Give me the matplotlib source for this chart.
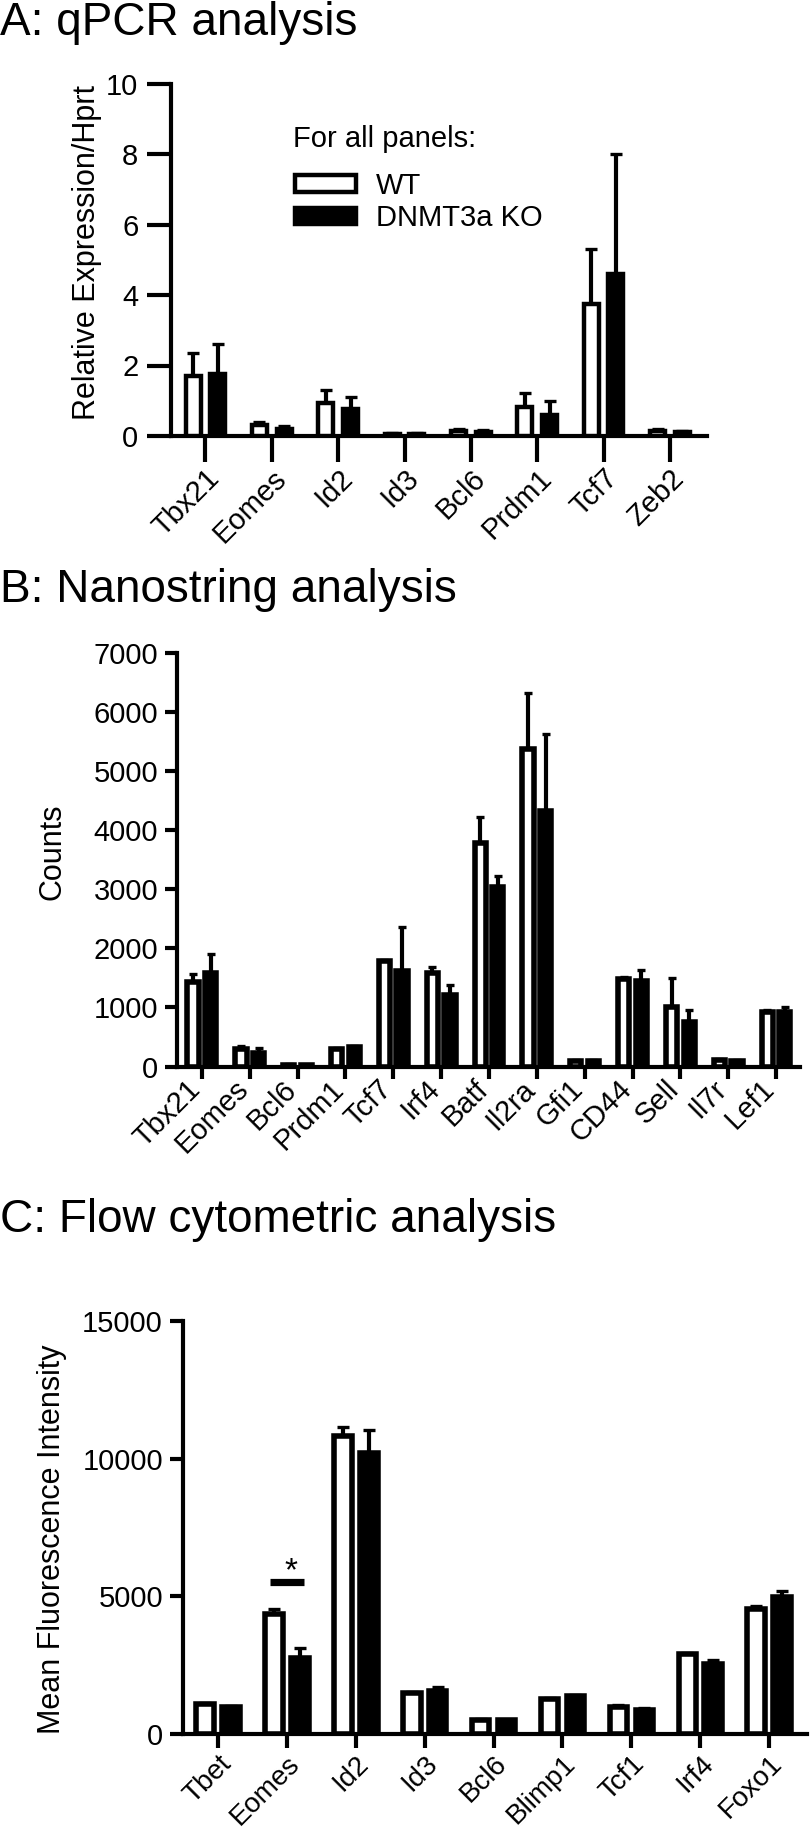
import numpy as np
import matplotlib
matplotlib.use("Agg")
import matplotlib.pyplot as plt

plt.rcParams['font.family'] = ['Liberation Sans', 'DejaVu Sans']

# ---------------- data ----------------
genes_a = ['Tbx21', 'Eomes', 'Id2', 'Id3', 'Bcl6', 'Prdm1', 'Tcf7', 'Zeb2']
wt_a = [1.70, 0.30, 0.93, 0.06, 0.15, 0.82, 3.74, 0.15]
wt_a_err = [0.65, 0.10, 0.37, 0.02, 0.05, 0.40, 1.56, 0.06]
ko_a = [1.76, 0.21, 0.78, 0.07, 0.11, 0.60, 4.60, 0.10]
ko_a_err = [0.85, 0.07, 0.32, 0.02, 0.05, 0.40, 3.40, 0.05]

genes_b = ['Tbx21', 'Eomes', 'Bcl6', 'Prdm1', 'Tcf7', 'Irf4', 'Batf', 'Il2ra',
           'Gfi1', 'CD44', 'Sell', 'Il7r', 'Lef1']
wt_b = [1430, 290, 30, 290, 1780, 1590, 3780, 5370, 100, 1480, 1000, 110, 920]
wt_b_err = [130, 50, 5, 20, 30, 100, 450, 950, 10, 40, 500, 15, 40]
ko_b = [1585, 235, 25, 330, 1610, 1210, 3040, 4320, 95, 1440, 760, 95, 930]
ko_b_err = [320, 80, 5, 10, 760, 170, 180, 1310, 10, 200, 190, 10, 70]

genes_c = ['Tbet', 'Eomes', 'Id2', 'Id3', 'Bcl6', 'Blimp1', 'Tcf1', 'Irf4', 'Foxo1']
wt_c = [1090, 4360, 10810, 1480, 520, 1270, 990, 2900, 4530]
wt_c_err = [30, 180, 330, 30, 30, 30, 70, 30, 120]
ko_c = [970, 2750, 10220, 1570, 500, 1390, 870, 2530, 4990]
ko_c_err = [30, 360, 830, 150, 20, 30, 85, 160, 200]

sig_gene_c = 'Eomes'
sig_label_c = '*'

titles = ['A: qPCR analysis', 'B: Nanostring analysis', 'C: Flow cytometric analysis']
ylabels = ['Relative Expression/Hprt', 'Counts', 'Mean Fluorescence Intensity']
legend_labels = ['WT', 'DNMT3a KO']
legend_title = 'For all panels:'

# ---------------- figure ----------------
W, H = 810, 1834
fig = plt.figure(figsize=(W / 100, H / 100), dpi=100)


def px_axes(left, right, top, bottom):
    return fig.add_axes([left / W, 1 - bottom / H, (right - left) / W, (bottom - top) / H])


def draw_panel(ax, genes, wt, wt_err, ko, ko_err, width, offset, edge_lw,
               capsize, ylim, yticks, xlim, ytick_len, xtick_len, ypad, xpad, xva,
               xlabelsize=21):
    n = len(genes)
    x = np.arange(n)
    ax.errorbar(x - offset, wt, yerr=[np.zeros(n), wt_err], fmt='none', ecolor='black',
                elinewidth=3.0, capsize=capsize, capthick=2.4, zorder=2)
    ax.errorbar(x + offset, ko, yerr=[np.zeros(n), ko_err], fmt='none', ecolor='black',
                elinewidth=3.0, capsize=capsize, capthick=2.4, zorder=2)
    b1 = ax.bar(x - offset, wt, width, color='white', edgecolor='black',
                linewidth=edge_lw, zorder=3)
    b2 = ax.bar(x + offset, ko, width, color='black', edgecolor='black',
                linewidth=edge_lw, zorder=3)
    ax.set_xlim(*xlim)
    ax.set_ylim(*ylim)
    ax.set_yticks(yticks)
    ax.set_yticklabels([str(t) for t in yticks])
    ax.set_xticks(x)
    ax.set_xticklabels(genes, rotation=45, ha='right', va=xva, rotation_mode='anchor')
    for s in ['top', 'right']:
        ax.spines[s].set_visible(False)
    for s in ['left', 'bottom']:
        ax.spines[s].set_linewidth(3.0)
    ax.tick_params(axis='y', length=ytick_len, width=3.0, pad=ypad, labelsize=21, direction='out')
    ax.tick_params(axis='x', length=xtick_len, width=3.0, pad=xpad, labelsize=xlabelsize,
                   direction='out')
    return b1, b2


# Panel A
axA = px_axes(171, 707, 83.5, 436)
bA1, bA2 = draw_panel(axA, genes_a, wt_a, wt_a_err, ko_a, ko_a_err, width=0.227, offset=0.186,
                      edge_lw=3.2, capsize=4.2, ylim=(0, 10), yticks=[0, 2, 4, 6, 8, 10],
                      xlim=(-0.52, 7.56), ytick_len=17, xtick_len=18.7, ypad=6.5, xpad=1.5, xva='top')
axA.set_ylabel(ylabels[0], fontsize=22, va='center')
axA.yaxis.set_label_coords((87 - 171) / 536, (436 - 252) / 352.5)
fig.text(293 / W, 1 - 147 / H, legend_title, fontsize=21, ha='left', va='baseline')
axA.legend(handles=[bA1, bA2], labels=legend_labels,
           loc='upper left', bbox_to_anchor=(295 / W, 1 - 172 / H), bbox_transform=fig.transFigure,
           frameon=False, fontsize=21,
           handlelength=2.09, handleheight=0.51, handletextpad=0.68, labelspacing=0.15,
           borderpad=0, borderaxespad=0)

# Panel B
axB = px_axes(177, 800, 653, 1066.5)
draw_panel(axB, genes_b, wt_b, wt_b_err, ko_b, ko_b_err, width=0.234, offset=0.184,
           edge_lw=4.0, capsize=3.2, ylim=(0, 7000), yticks=list(range(0, 7001, 1000)),
           xlim=(-0.52, 12.5), ytick_len=8.6, xtick_len=8.6, ypad=5, xpad=8.6, xva='baseline')
axB.set_ylabel(ylabels[1], fontsize=22, va='center')
axB.yaxis.set_label_coords((53 - 177) / 623, (1066.5 - 851.5) / 413.5)

# Panel C
axC = px_axes(183, 807, 1321, 1734)
draw_panel(axC, genes_c, wt_c, wt_c_err, ko_c, ko_c_err, width=0.254, offset=0.188,
           edge_lw=4.0, capsize=4.0, ylim=(0, 15000), yticks=[0, 5000, 10000, 15000],
           xlim=(-0.51, 8.55), ytick_len=9.4, xtick_len=10, ypad=5, xpad=2, xva='top',
           xlabelsize=20)
axC.set_ylabel(ylabels[2], fontsize=22, va='center')
axC.yaxis.set_label_coords((52 - 183) / 624, (1734 - 1539) / 413)

# significance marker on panel C
i = genes_c.index(sig_gene_c)
top = max(wt_c[i] + wt_c_err[i], ko_c[i] + ko_c_err[i])
ysig = top + 980
axC.plot([i - 0.24, i + 0.24], [ysig, ysig], color='black', lw=5.2, solid_capstyle='butt', zorder=4)
axC.text(i + 0.06, ysig + 60, sig_label_c, ha='center', va='baseline', fontsize=24, zorder=4)

# Panel titles
for t, yb in zip(titles, [35, 602, 1232]):
    fig.text(0, 1 - yb / H, t, fontsize=33, ha='left', va='baseline')

fig.savefig('out.png', dpi=100)
